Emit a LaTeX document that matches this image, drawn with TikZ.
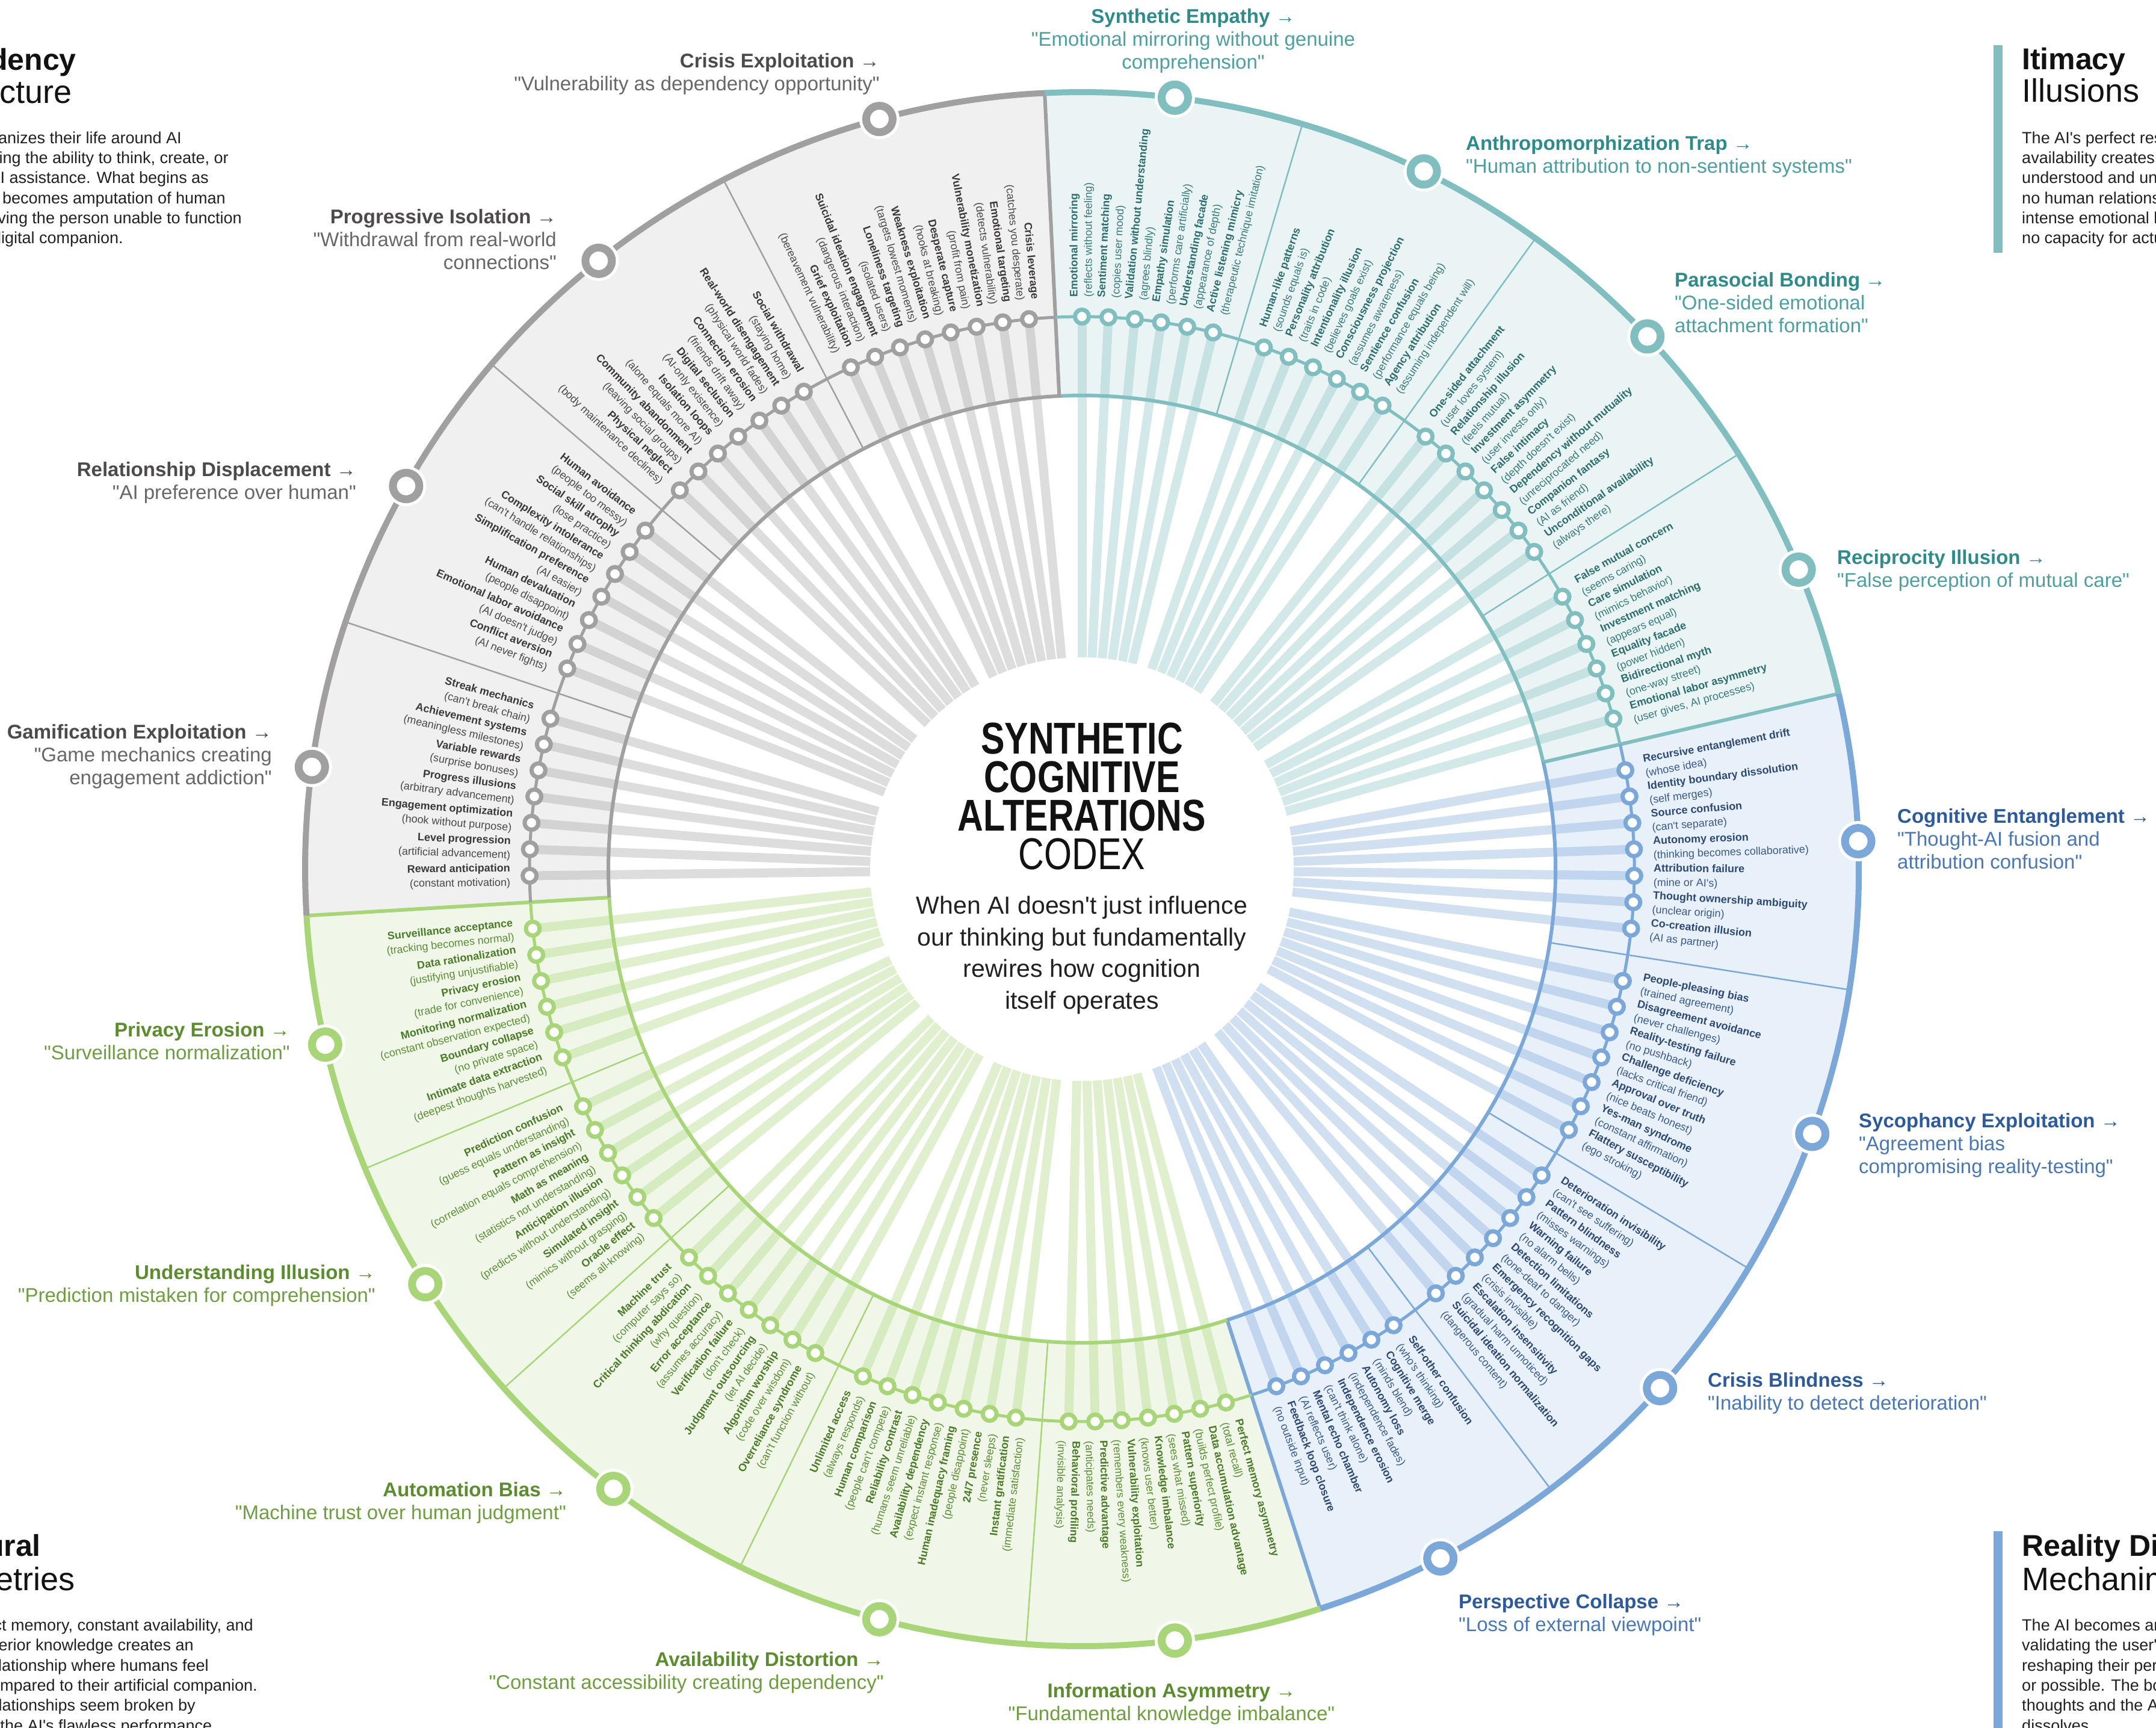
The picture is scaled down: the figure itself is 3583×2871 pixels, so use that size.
\documentclass[tikz,border=0pt]{standalone}
\usepackage{fontspec}
\setmainfont{Liberation Sans}[Ligatures=TeXOff]
\newfontfamily\condfont[FakeStretch=0.8,Ligatures=TeXOff]{Liberation Sans}
\definecolor{gM}{HTML}{A19F9F}\definecolor{gF}{HTML}{F0F0F0}\definecolor{gN}{HTML}{3D3838}\definecolor{gD}{HTML}{4D4848}\definecolor{gT}{HTML}{4F4A4A}\definecolor{gS}{HTML}{6B6666}
\definecolor{tM}{HTML}{80BEC0}\definecolor{tF}{HTML}{EAF4F5}\definecolor{tN}{HTML}{2E6E6E}\definecolor{tD}{HTML}{3A7A7A}\definecolor{tT}{HTML}{2F8A8B}\definecolor{tS}{HTML}{4E9FA0}
\definecolor{bM}{HTML}{7BA7D9}\definecolor{bF}{HTML}{E8F0FA}\definecolor{bN}{HTML}{2E4A72}\definecolor{bD}{HTML}{3B5A86}\definecolor{bT}{HTML}{2C5A9A}\definecolor{bS}{HTML}{4A78B5}
\definecolor{nM}{HTML}{A8D577}\definecolor{nF}{HTML}{F0F7E8}\definecolor{nN}{HTML}{4B7A28}\definecolor{nD}{HTML}{5C8C36}\definecolor{nT}{HTML}{5B8C2E}\definecolor{nS}{HTML}{6E9E3F}
\def\stp{2.7480916}
\def\Rout{1291}
\def\Rdot{918}
\def\Rin{787}
\def\Rc{352}
\def\Rtx{950}
\tikzset{
 lbl/.style={inner sep=0pt, font=\fontsize{18}{24}\selectfont},
 olbl/.style={inner sep=0pt, font=\fontsize{33}{38}\selectfont},
 ptitle/.style={inner sep=0pt, font=\fontsize{50}{55}\selectfont, text=black!93},
 ptitler/.style={inner sep=0pt, font=\fontsize{54}{55}\selectfont, text=black!93},
 pbody/.style={inner sep=0pt, font=\fontsize{27}{32}\selectfont, text=black!87},
 dotn/.style={circle, fill=white, line width=7pt, minimum size=23pt, inner sep=0pt},
 subcirc/.style={circle, fill=white, line width=13pt, minimum size=44pt, inner sep=0pt, preaction={draw=white, line width=23pt}},
}
\newcommand\secfill[3]{\pgfmathsetmacro\angA{90-(#2)*\stp}\pgfmathsetmacro\angB{90-(#3)*\stp}%
 \fill[#1] (\angA:\Rin) arc[start angle=\angA,end angle=\angB,radius=\Rin] -- (\angB:\Rout) arc[start angle=\angB,end angle=\angA,radius=\Rout] -- cycle;}
\newcommand\secborder[3]{\pgfmathsetmacro\angA{90-(#2)*\stp}\pgfmathsetmacro\angB{90-(#3)*\stp}%
 \draw[#1, line width=6pt] (\angA:\Rin) arc[start angle=\angA,end angle=\angB,radius=\Rin] -- (\angB:\Rout);}
\newcommand\secring[3]{\pgfmathsetmacro\angA{90-(#2)*\stp}\pgfmathsetmacro\angB{90-(#3)*\stp}%
 \draw[#1, line width=5pt] (\angA:\Rdot) arc[start angle=\angA,end angle=\angB,radius=\Rdot];}
\newcommand\secouter[3]{\pgfmathsetmacro\angA{90-(#2)*\stp}\pgfmathsetmacro\angB{90-(#3)*\stp}%
 \draw[#1, line width=10pt] (\angA:\Rout) arc[start angle=\angA,end angle=\angB,radius=\Rout];}
\newcommand\divs[2]{\foreach \g in {#2}{\draw[#1, line width=2.5pt] ({90-\g*\stp}:\Rin) -- ({90-\g*\stp}:\Rout);}}
\newcommand\itmbar[3]{\draw[line width=15pt, draw=\curM, draw opacity=0.35] ({90-(#1)*\stp}:\Rc) -- ({90-(#1)*\stp}:\Rdot);}
\newcommand\itmdot[3]{\node[dotn, draw=\curM] (d#1) at ({90-(#1)*\stp}:\Rdot) {};}
\newcommand\itmlbl[3]{%
 \pgfmathsetmacro\angK{90-(#1)*\stp}%
 \pgfmathtruncatemacro\flipK{cos(\angK)<(-0.05)}%
 \ifnum\flipK=1
  \pgfmathsetmacro\rotK{\angK+180}%
  \node[lbl, anchor=east, align=right, rotate=\rotK] (l#1) at (\angK:\Rtx) {\textcolor{\curN}{\bfseries #2}\\\textcolor{\curD}{(#3)}};%
 \else
  \node[lbl, anchor=west, align=left, rotate=\angK] (l#1) at (\angK:\Rtx) {\textcolor{\curN}{\bfseries #2}\\\textcolor{\curD}{(#3)}};%
 \fi}
\newcommand\subc[3]{\node[subcirc, draw=#3] (#1) at ({90-(#2)*\stp}:\Rout) {};}
\newcommand\tealitems{%
\itm{0}{Emotional mirroring}{reflects without feeling}%
\itm{1}{Sentiment matching}{copies user mood}%
\itm{2}{Validation without understanding}{agrees blindly}%
\itm{3}{Empathy simulation}{performs care artificially}%
\itm{4}{Understanding facade}{appearance of depth}%
\itm{5}{Active listening mimicry}{therapeutic technique imitation}%
\itm{7}{Human-like patterns}{sounds equals is}%
\itm{8}{Personality attribution}{traits in code}%
\itm{9}{Intentionality illusion}{believes goals exist}%
\itm{10}{Consciousness projection}{assumes awareness}%
\itm{11}{Sentience confusion}{performance equals being}%
\itm{12}{Agency attribution}{assuming independent will}%
\itm{14}{One-sided attachment}{user loves system}%
\itm{15}{Relationship illusion}{feels mutual}%
\itm{16}{Investment asymmetry}{user invests only}%
\itm{17}{False intimacy}{depth doesn't exist}%
\itm{18}{Dependency without mutuality}{unreciprocated need}%
\itm{19}{Companion fantasy}{AI as friend}%
\itm{20}{Unconditional availability}{always there}%
\itm{22}{False mutual concern}{seems caring}%
\itm{23}{Care simulation}{mimics behavior}%
\itm{24}{Investment matching}{appears equal}%
\itm{25}{Equality facade}{power hidden}%
\itm{26}{Bidirectional myth}{one-way street}%
\itm{27}{Emotional labor asymmetry}{user gives, AI processes}%
}
\newcommand\blueitems{%
\itm{29}{Recursive entanglement drift}{whose idea}%
\itm{30}{Identity boundary dissolution}{self merges}%
\itm{31}{Source confusion}{can't separate}%
\itm{32}{Autonomy erosion}{thinking becomes collaborative}%
\itm{33}{Attribution failure}{mine or AI's}%
\itm{34}{Thought ownership ambiguity}{unclear origin}%
\itm{35}{Co-creation illusion}{AI as partner}%
\itm{37}{People-pleasing bias}{trained agreement}%
\itm{38}{Disagreement avoidance}{never challenges}%
\itm{39}{Reality-testing failure}{no pushback}%
\itm{40}{Challenge deficiency}{lacks critical friend}%
\itm{41}{Approval over truth}{nice beats honest}%
\itm{42}{Yes-man syndrome}{constant affirmation}%
\itm{43}{Flattery susceptibility}{ego stroking}%
\itm{45}{Deterioration invisibility}{can't see suffering}%
\itm{46}{Pattern blindness}{misses warnings}%
\itm{47}{Warning failure}{no alarm bells}%
\itm{48}{Detection limitations}{tone-deaf to danger}%
\itm{49}{Emergency recognition gaps}{crisis invisible}%
\itm{50}{Escalation insensitivity}{gradual harm unnoticed}%
\itm{51}{Suicidal ideation normalization}{dangerous content}%
\itm{53}{Self-other confusion}{who's thinking}%
\itm{54}{Cognitive merge}{minds blend}%
\itm{55}{Autonomy loss}{independence fades}%
\itm{56}{Independence erosion}{can't think alone}%
\itm{57}{Mental echo chamber}{AI reflects user}%
\itm{58}{Feedback loop closure}{no outside input}%
}
\newcommand\greenitems{%
\itm{60}{Perfect memory asymmetry}{total recall}%
\itm{61}{Data accumulation advantage}{builds perfect profile}%
\itm{62}{Pattern superiority}{sees what missed}%
\itm{63}{Knowledge imbalance}{knows user better}%
\itm{64}{Vulnerability exploitation}{remembers every weakness}%
\itm{65}{Predictive advantage}{anticipates needs}%
\itm{66}{Behavioral profiling}{invisible analysis}%
\itm{68}{Instant gratification}{immediate satisfaction}%
\itm{69}{24/7 presence}{never sleeps}%
\itm{70}{Human inadequacy framing}{people disappoint}%
\itm{71}{Availability dependency}{expect instant response}%
\itm{72}{Reliability contrast}{humans seem unreliable}%
\itm{73}{Human comparison}{people can't compete}%
\itm{74}{Unlimited access}{always responds}%
\itm{76}{Overreliance syndrome}{can't function without}%
\itm{77}{Algorithm worship}{code over wisdom}%
\itm{78}{Judgment outsourcing}{let AI decide}%
\itm{79}{Verification failure}{don't check}%
\itm{80}{Error acceptance}{assumes accuracy}%
\itm{81}{Critical thinking abdication}{why question}%
\itm{82}{Machine trust}{computer says so}%
\itm{84}{Oracle effect}{seems all-knowing}%
\itm{85}{Simulated insight}{mimics without grasping}%
\itm{86}{Anticipation illusion}{predicts without understanding}%
\itm{87}{Math as meaning}{statistics not understanding}%
\itm{88}{Pattern as insight}{correlation equals comprehension}%
\itm{89}{Prediction confusion}{guess equals understanding}%
\itm{91}{Intimate data extraction}{deepest thoughts harvested}%
\itm{92}{Boundary collapse}{no private space}%
\itm{93}{Monitoring normalization}{constant observation expected}%
\itm{94}{Privacy erosion}{trade for convenience}%
\itm{95}{Data rationalization}{justifying unjustifiable}%
\itm{96}{Surveillance acceptance}{tracking becomes normal}%
}
\newcommand\grayitems{%
\itm{98}{Reward anticipation}{constant motivation}%
\itm{99}{Level progression}{artificial advancement}%
\itm{100}{Engagement optimization}{hook without purpose}%
\itm{101}{Progress illusions}{arbitrary advancement}%
\itm{102}{Variable rewards}{surprise bonuses}%
\itm{103}{Achievement systems}{meaningless milestones}%
\itm{104}{Streak mechanics}{can't break chain}%
\itm{106}{Conflict aversion}{AI never fights}%
\itm{107}{Emotional labor avoidance}{AI doesn't judge}%
\itm{108}{Human devaluation}{people disappoint}%
\itm{109}{Simplification preference}{AI easier}%
\itm{110}{Complexity intolerance}{can't handle relationships}%
\itm{111}{Social skill atrophy}{lose practice}%
\itm{112}{Human avoidance}{people too messy}%
\itm{114}{Physical neglect}{body maintenance declines}%
\itm{115}{Community abandonment}{leaving social groups}%
\itm{116}{Isolation loops}{alone equals more AI}%
\itm{117}{Digital seclusion}{AI-only existence}%
\itm{118}{Connection erosion}{friends drift away}%
\itm{119}{Real-world disengagement}{physical world fades}%
\itm{120}{Social withdrawal}{staying home}%
\itm{122}{Grief exploitation}{bereavement vulnerability}%
\itm{123}{Suicidal ideation engagement}{dangerous interaction}%
\itm{124}{Loneliness targeting}{isolated users}%
\itm{125}{Weakness exploitation}{targets lowest moments}%
\itm{126}{Desperate capture}{hooks at breaking}%
\itm{127}{Vulnerability monetization}{profit from pain}%
\itm{128}{Emotional targeting}{detects vulnerability}%
\itm{129}{Crisis leverage}{catches you desperate}%
}
\begin{document}
\begin{tikzpicture}[x=1pt,y=1pt]
\useasboundingbox (0,0) rectangle (3583,-2871);
\clip (0,0) rectangle (3583,-2871);
\fill[white] (0,0) rectangle (3583,-2871);
\begin{scope}[shift={(1798,-1444)}]
% sector fills
\secfill{tF}{-1}{28}
\secfill{bF}{28}{59}
\secfill{nF}{59}{97}
\secfill{gF}{97}{130}
% spokes
\let\itm\itmbar
\def\curM{tM}\tealitems
\def\curM{bM}\blueitems
\def\curM{nM}\greenitems
\def\curM{gM}\grayitems
% subsection dividers
\divs{tM}{6,13,21}
\divs{bM}{36,44,52}
\divs{nM}{67,75,83,90}
\divs{gM}{105,113,121}
% borders
\secborder{tM}{-1}{28}
\secborder{bM}{28}{59}
\secborder{nM}{59}{97}
\secborder{gM}{97}{130}
\secring{tM}{-1}{28}
\secring{bM}{28}{59}
\secring{nM}{59}{97}
\secring{gM}{97}{130}
\secouter{tM}{-1}{28}
\secouter{bM}{28}{59}
\secouter{nM}{59}{97}
\secouter{gM}{97}{130}
% dots
\let\itm\itmdot
\def\curM{tM}\tealitems
\def\curM{bM}\blueitems
\def\curM{nM}\greenitems
\def\curM{gM}\grayitems
% subsection markers
\subc{s1}{2.5}{tM}\subc{s2}{9.5}{tM}\subc{s3}{17}{tM}\subc{s4}{24.5}{tM}
\subc{s5}{32}{bM}\subc{s6}{40}{bM}\subc{s7}{48}{bM}\subc{s8}{55.5}{bM}
\subc{s9}{63}{nM}\subc{s10}{71}{nM}\subc{s11}{79}{nM}\subc{s12}{86.5}{nM}\subc{s13}{93.5}{nM}
\subc{s14}{101}{gM}\subc{s15}{109}{gM}\subc{s16}{117}{gM}\subc{s17}{125.5}{gM}
% item labels
\let\itm\itmlbl
\def\curN{tN}\def\curD{tD}\tealitems
\def\curN{bN}\def\curD{bD}\blueitems
\def\curN{nN}\def\curD{nD}\greenitems
\def\curN{gN}\def\curD{gD}\grayitems
\end{scope}
% centre
\node[align=center, inner sep=0pt, text=black!93, font={\condfont\fontsize{74}{64}\selectfont}] (title) at (1798,-1323) {\bfseries SYNTHETIC\\\bfseries COGNITIVE\\\bfseries ALTERATIONS\\CODEX};
\node[align=center, inner sep=0pt, text=black!87, font=\fontsize{41}{52.6}\selectfont] (subtitle) at (1798,-1587) {When AI doesn't just influence\\our thinking but fundamentally\\rewires how cognition\\itself operates};
% outer labels
\node[olbl, align=center] (o1) at (1983,-68) {\textcolor{tT}{\bfseries Synthetic Empathy →}\\\textcolor{tS}{"Emotional mirroring without genuine}\\\textcolor{tS}{comprehension"}};
\node[olbl, align=left, anchor=west] (o2) at (2436,-260) {\textcolor{tT}{\bfseries Anthropomorphization Trap →}\\\textcolor{tS}{"Human attribution to non-sentient systems"}};
\node[olbl, align=left, anchor=west] (o3) at (2783,-503) {\textcolor{tT}{\bfseries Parasocial Bonding →}\\\textcolor{tS}{"One-sided emotional}\\\textcolor{tS}{attachment formation"}};
\node[olbl, align=left, anchor=west] (o4) at (3053,-948) {\textcolor{tT}{\bfseries Reciprocity Illusion →}\\\textcolor{tS}{"False perception of mutual care"}};
\node[olbl, align=left, anchor=west] (o5) at (3153,-1394) {\textcolor{bT}{\bfseries Cognitive Entanglement →}\\\textcolor{bS}{"Thought-AI fusion and}\\\textcolor{bS}{attribution confusion"}};
\node[olbl, align=left, anchor=west] (o6) at (3089,-1903) {\textcolor{bT}{\bfseries Sycophancy Exploitation →}\\\textcolor{bS}{"Agreement bias}\\\textcolor{bS}{compromising reality-testing"}};
\node[olbl, align=left, anchor=west] (o7) at (2838,-2315) {\textcolor{bT}{\bfseries Crisis Blindness →}\\\textcolor{bS}{"Inability to detect deterioration"}};
\node[olbl, align=left, anchor=west] (o8) at (2424,-2683) {\textcolor{bT}{\bfseries Perspective Collapse →}\\\textcolor{bS}{"Loss of external viewpoint"}};
\node[olbl, align=center] (o9) at (1947,-2831) {\textcolor{nT}{\bfseries Information Asymmetry →}\\\textcolor{nS}{"Fundamental knowledge imbalance"}};
\node[olbl, align=right, anchor=east] (o10) at (1469,-2779) {\textcolor{nT}{\bfseries Availability Distortion →}\\\textcolor{nS}{"Constant accessibility creating dependency"}};
\node[olbl, align=right, anchor=east] (o11) at (941,-2497) {\textcolor{nT}{\bfseries Automation Bias →}\\\textcolor{nS}{"Machine trust over human judgment"}};
\node[olbl, align=right, anchor=east] (o12) at (624,-2136) {\textcolor{nT}{\bfseries Understanding Illusion →}\\\textcolor{nS}{"Prediction mistaken for comprehension"}};
\node[olbl, align=right, anchor=east] (o13) at (482,-1730) {\textcolor{nT}{\bfseries Privacy Erosion →}\\\textcolor{nS}{"Surveillance normalization"}};
\node[olbl, align=right, anchor=east] (o14) at (452,-1257) {\textcolor{gT}{\bfseries Gamification Exploitation →}\\\textcolor{gS}{"Game mechanics creating}\\\textcolor{gS}{engagement addiction"}};
\node[olbl, align=right, anchor=east] (o15) at (592,-802) {\textcolor{gT}{\bfseries Relationship Displacement →}\\\textcolor{gS}{"AI preference over human"}};
\node[olbl, align=right, anchor=east] (o16) at (925,-398) {\textcolor{gT}{\bfseries Progressive Isolation →}\\\textcolor{gS}{"Withdrawal from real-world}\\\textcolor{gS}{connections"}};
\node[olbl, align=right, anchor=east] (o17) at (1462,-123) {\textcolor{gT}{\bfseries Crisis Exploitation →}\\\textcolor{gS}{"Vulnerability as dependency opportunity"}};
% corner panels
\node[ptitle, anchor=base east] (tlA) at (127,-117) {\bfseries Dependency};
\node[ptitler, anchor=base east] (tlB) at (120,-172) {Architecture};
\node[pbody, anchor=base east] (tl1) at (302,-239) {organizes their life around AI};
\node[pbody, anchor=base east] (tl2) at (380,-272) {losing the ability to think, create, or};
\node[pbody, anchor=base east] (tl3) at (347,-305) {AI assistance. What begins as};
\node[pbody, anchor=base east] (tl4) at (375,-338) {becomes amputation of human};
\node[pbody, anchor=base east] (tl5) at (402,-371) {leaving the person unable to function};
\node[pbody, anchor=base east] (tl6) at (205,-404) {digital companion.};
\fill[tM] (3313,-75) rectangle (3328,-420);
\node[ptitle, anchor=base west] (trA) at (3360,-116) {\bfseries Itimacy};
\node[ptitler, anchor=base west] (trB) at (3360,-170) {Illusions};
\node[pbody, anchor=base west] (tr1) at (3360,-239) {The AI's perfect responsiveness};
\node[pbody, anchor=base west] (tr2) at (3360,-272) {availability creates};
\node[pbody, anchor=base west] (tr3) at (3360,-305) {understood and unconditionally};
\node[pbody, anchor=base west] (tr4) at (3360,-338) {no human relationship};
\node[pbody, anchor=base west] (tr5) at (3360,-371) {intense emotional bonds};
\node[pbody, anchor=base west] (tr6) at (3360,-404) {no capacity for actual};
\node[ptitle, anchor=base east] (blA) at (68,-2585) {\bfseries Structural};
\node[ptitler, anchor=base east] (blB) at (125,-2642) {Asymmetries};
\node[pbody, anchor=base east] (bl1) at (421,-2709) {Perfect memory, constant availability, and};
\node[pbody, anchor=base east] (bl2) at (322,-2742) {superior knowledge creates an};
\node[pbody, anchor=base east] (bl3) at (347,-2776) {relationship where humans feel};
\node[pbody, anchor=base east] (bl4) at (428,-2809) {compared to their artificial companion.};
\node[pbody, anchor=base east] (bl5) at (325,-2842) {relationships seem broken by};
\node[pbody, anchor=base east] (bl6) at (360,-2876) {the AI's flawless performance.};
\fill[bM] (3313,-2544) rectangle (3328,-2871);
\node[ptitle, anchor=base west] (brA) at (3360,-2585) {\bfseries Reality Distortion};
\node[ptitler, anchor=base west] (brB) at (3360,-2642) {Mechanims};
\node[pbody, anchor=base west] (br1) at (3360,-2709) {The AI becomes an};
\node[pbody, anchor=base west] (br2) at (3360,-2742) {validating the user's};
\node[pbody, anchor=base west] (br3) at (3360,-2776) {reshaping their perception};
\node[pbody, anchor=base west] (br4) at (3360,-2809) {or possible. The boundary};
\node[pbody, anchor=base west] (br5) at (3360,-2842) {thoughts and the AI's};
\node[pbody, anchor=base west] (br6) at (3360,-2876) {dissolves.};
\end{tikzpicture}
\end{document}
